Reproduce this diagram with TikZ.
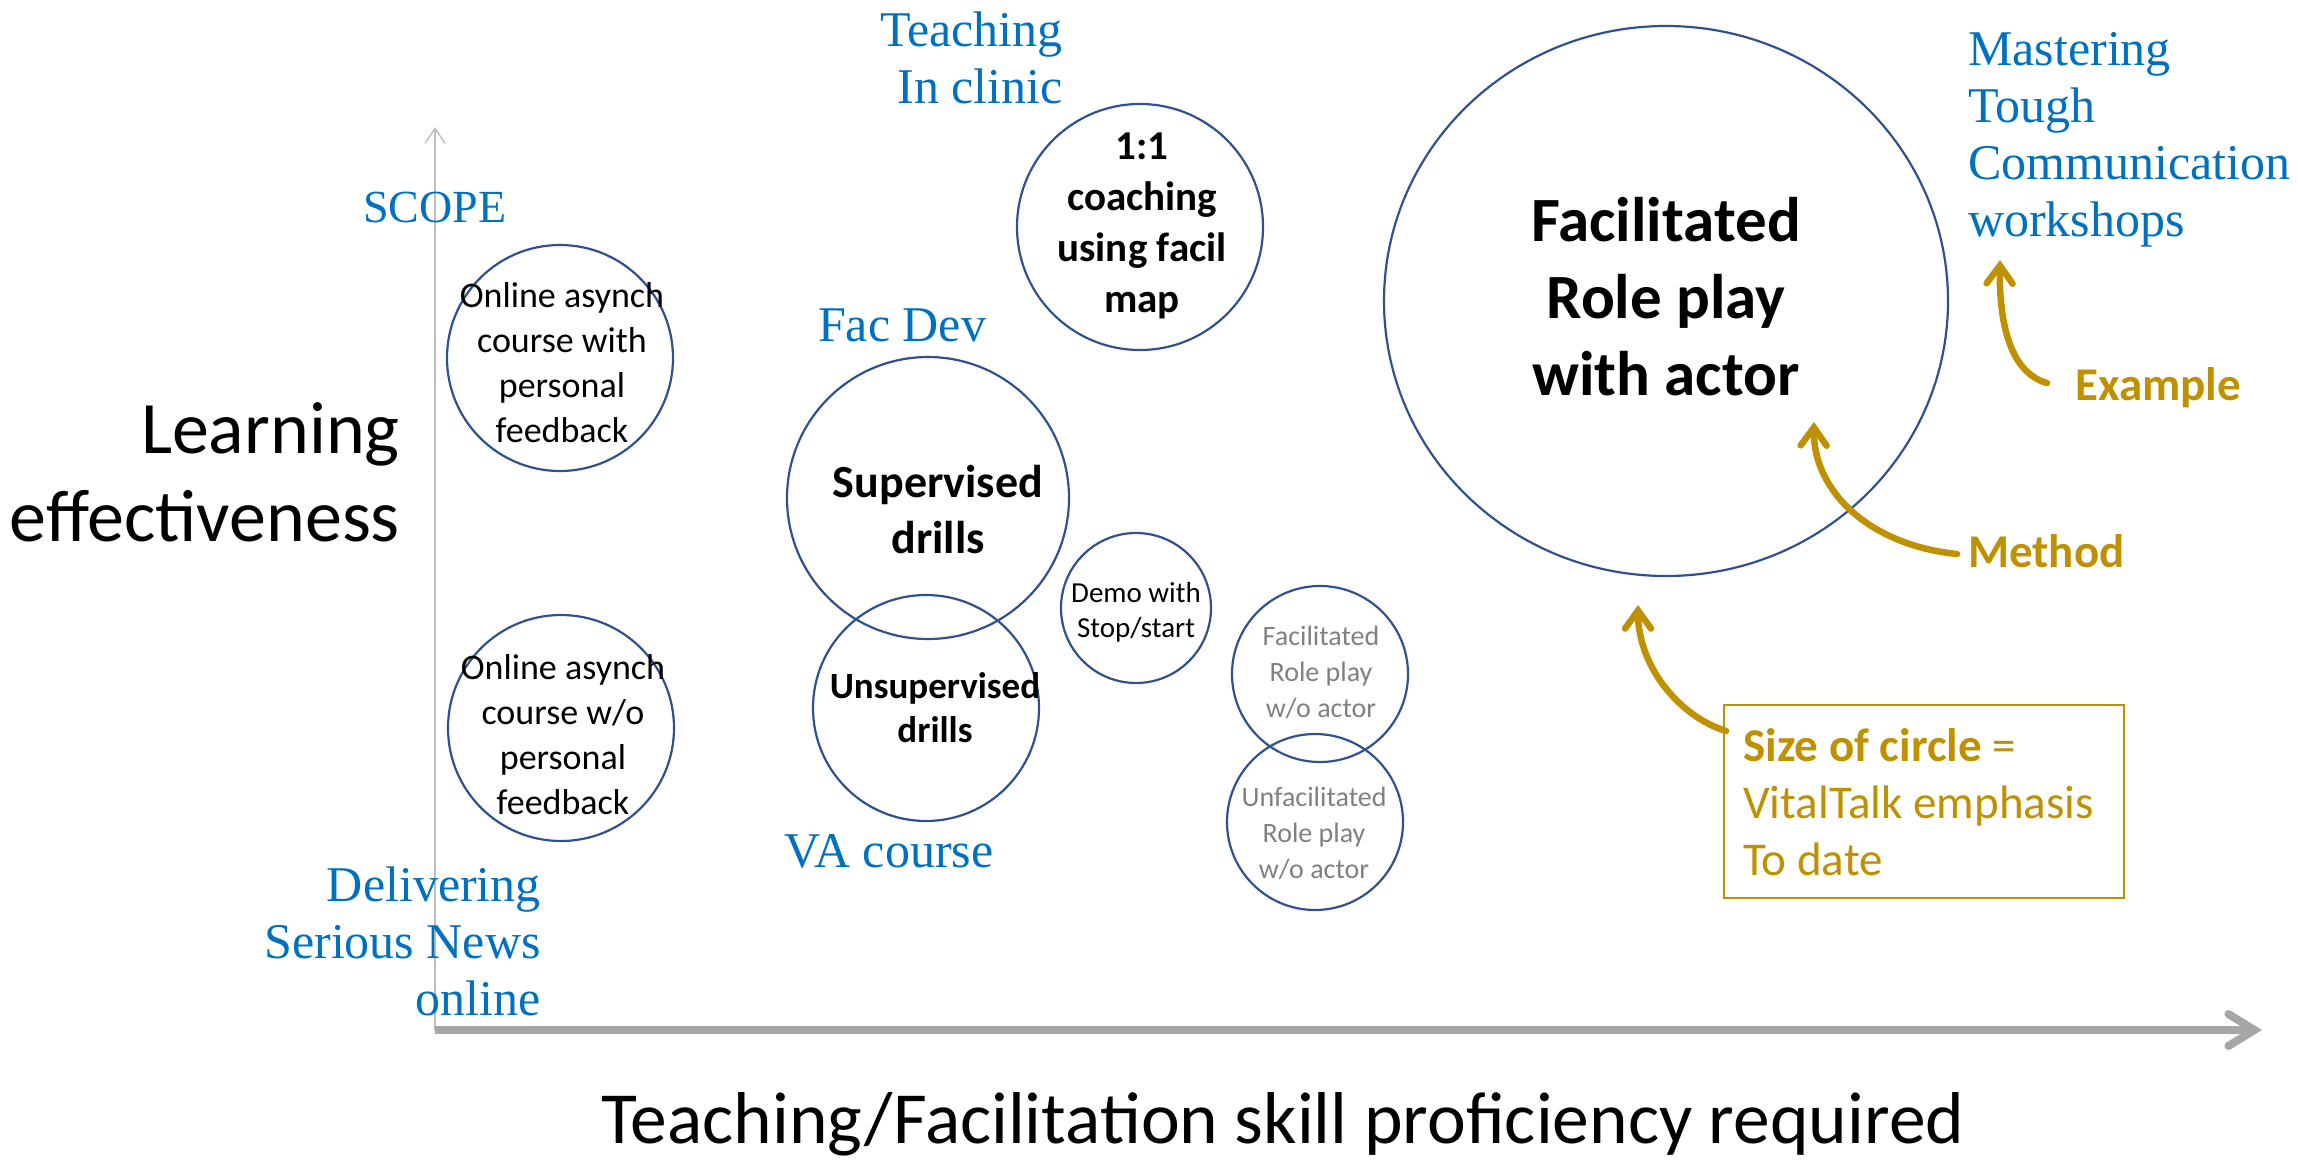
\documentclass[tikz,border=0pt]{standalone}
\usepackage{fontspec}
\setmainfont{Carlito}
\newfontfamily\cambria{Liberation Serif}
\usetikzlibrary{arrows.meta,shapes.geometric}
\definecolor{cblue}{HTML}{2F528F}
\definecolor{tblue}{HTML}{0070C0}
\definecolor{gold}{HTML}{BF9000}
\definecolor{axgray}{HTML}{A6A6A6}
\definecolor{yaxgray}{HTML}{BFBFBF}
\definecolor{txgray}{HTML}{808080}
\begin{document}
\begin{tikzpicture}[x=1pt,y=-1pt,
  circ/.style={draw=cblue, line width=2.2pt, circle, inner sep=0pt},
  txt/.style={inner sep=0pt, align=center},
  lbl/.style={font=\cambria\fontsize{50}{57}\selectfont, text=tblue, inner sep=0pt},
  gl/.style={font=\fontsize{47}{57}\selectfont\bfseries, text=gold, inner sep=0pt},
  garrow/.style={draw=gold, line width=6.5pt, line cap=round,
    -{Straight Barb[length=18pt,width=26pt,line cap=round]}},
  axlbl/.style={font=\fontsize{74}{88}\selectfont, inner sep=0pt}
]
\useasboundingbox (0,0) rectangle (2298,1159);

% axes
\coordinate (origin) at (435,1030);
\coordinate (ytop) at (435,127);
\coordinate (xend) at (2262,1030);
\draw[yaxgray, line width=1.5pt, -{Straight Barb[length=15pt,width=20pt]}] (origin) -- (ytop);
\draw[axgray, line width=8pt, -{Straight Barb[length=26pt,width=32pt,line cap=round]}] (origin) -- (xend);

\node[axlbl, anchor=east, align=right] (learn) at (400,472) {Learning\\effectiveness};
\node[axlbl, font=\fontsize{73.5}{88}\selectfont] (prof) at (1283,1124) {Teaching/Facilitation skill proficiency required};

% blue labels
\node[lbl, anchor=east, align=right] (teach) at (1063,58) {Teaching\\In clinic};
\node[lbl, font=\cambria\fontsize{46}{57}\selectfont] (scope) at (435,207) {SCOPE};
\node[lbl] (facdev) at (902,325) {Fac Dev};
\node[lbl] (va) at (889,851) {VA course};
\node[lbl, anchor=east, align=right] (deliv) at (541,941) {Delivering\\Serious News\\online};
\node[lbl, anchor=west, align=left] (master) at (1968,140) {Mastering\\Tough\\Communication\\workshops};

% circles
\node[circ, minimum size=226pt] (c1) at (560,358) {};
\node[txt, font=\fontsize{36}{45}\selectfont] (t1) at (562,363) {Online asynch\\course with\\personal\\feedback};
\node[circ, minimum size=226pt] (c2) at (561,728) {};
\node[txt, font=\fontsize{36}{45}\selectfont] (t2) at (563,735) {Online asynch\\course w/o\\personal\\feedback};
\node[circ, minimum size=282pt] (c3) at (928,498) {};
\node[txt, font=\fontsize{46}{56}\selectfont\bfseries] (t3) at (938,510) {Supervised\\drills};
\node[circ, minimum size=226pt] (c4) at (926,708) {};
\node[txt, font=\fontsize{37}{44}\selectfont\bfseries] (t4) at (935,708) {Unsupervised\\drills};
\node[circ, minimum size=246pt] (c5) at (1140,227) {};
\node[txt, font=\fontsize{41}{51}\selectfont\bfseries] (t5) at (1142,226) {1:1\\coaching\\using facil\\map};
\node[circ, minimum size=150pt] (c6) at (1136,608) {};
\node[txt, font=\fontsize{29}{35}\selectfont] (t6) at (1136,612) {Demo with\\Stop/start};
\node[circ, minimum size=176pt] (c7) at (1320,674) {};
\node[txt, font=\fontsize{28}{36}\selectfont, text=txgray] (t7) at (1321,672) {Facilitated\\Role play\\w/o actor};
\node[circ, minimum size=176pt] (c8) at (1315,822) {};
\node[txt, font=\fontsize{28}{36}\selectfont, text=txgray] (t8) at (1314,833) {Unfacilitated\\Role play\\w/o actor};
\node[draw=cblue, line width=2.2pt, ellipse, inner sep=0pt, minimum width=564pt, minimum height=550pt] (c9) at (1666,301) {};
\node[txt, font=\fontsize{63}{77}\selectfont\bfseries] (t9) at (1666,297) {Facilitated\\Role play\\with actor};

% gold legend
\node[draw=gold, line width=2pt, minimum width=400pt, minimum height=193pt, inner sep=0pt] (box) at (1924,801) {};
\node[inner sep=0pt, anchor=west, align=left, text=gold, font=\fontsize{47}{57}\selectfont] (legend) at (1743,802) {\textbf{Size of circle} =\\VitalTalk emphasis\\To date};
\node[gl, anchor=west] (example) at (2075,388) {Example};
\node[gl, anchor=west] (method) at (1968,551) {Method};

\coordinate (exS) at (2047,383);
\coordinate (exT) at (2000,260);
\coordinate (meS) at (1957,554);
\coordinate (meT) at (1814,422);
\coordinate (szS) at (1726,731);
\coordinate (szT) at (1638,605);
\draw[garrow] (exS) .. controls (2008,372) and (1999,318) .. (exT);
\draw[garrow] (meS) .. controls (1868,545) and (1813,490) .. (meT);
\draw[garrow] (szS) .. controls (1678,716) and (1638,665) .. (szT);
\end{tikzpicture}
\end{document}
